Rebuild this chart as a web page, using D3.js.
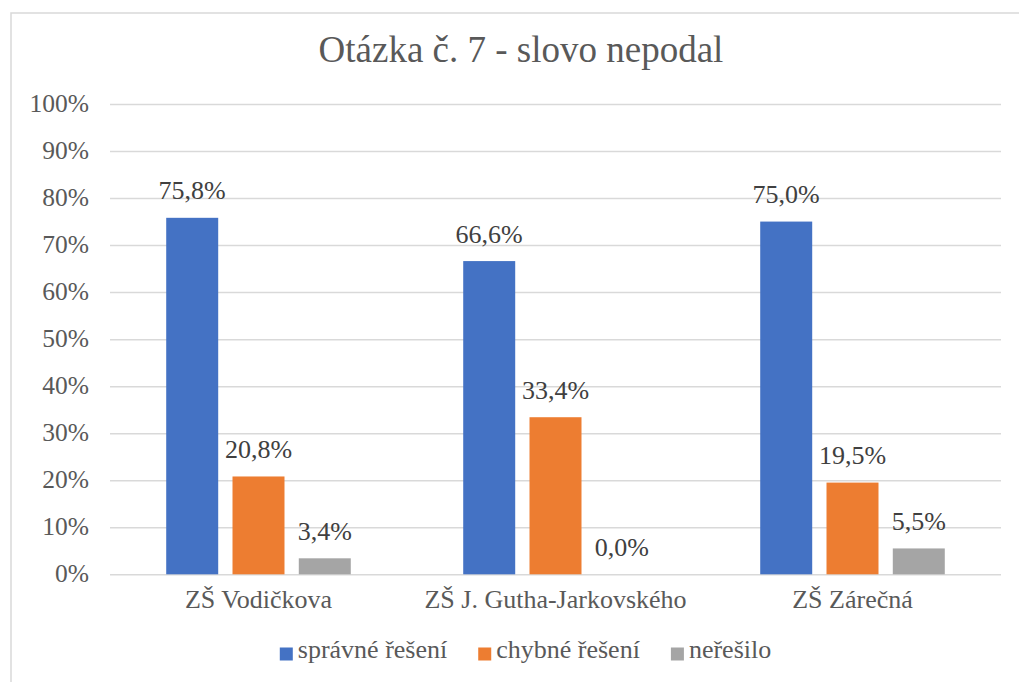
<!DOCTYPE html>
<html>
<head>
<meta charset="utf-8">
<script src="https://cdn.jsdelivr.net/npm/d3@7"></script>
</head>
<body style="margin:0;padding:0;background:#fff">
<svg id="chart" width="1019" height="682" style="display:block"></svg>
<script>
// Chart data
const title = "Otázka č. 7 - slovo nepodal";
const categories = ["ZŠ Vodičkova", "ZŠ J. Gutha-Jarkovského", "ZŠ Zárečná"];
const seriesNames = ["správné řešení", "chybné řešení", "neřešilo"];
const seriesColors = ["#4472C4", "#ED7D31", "#A5A5A5"];
const spravne = [75.8, 66.6, 75.0];
const chybne = [20.8, 33.4, 19.5];
const neresilo = [3.4, 0.0, 5.5];
const yTicks = [0, 10, 20, 30, 40, 50, 60, 70, 80, 90, 100];

const seriesValues = [spravne, chybne, neresilo];
const FONT = "'Liberation Serif'";

const svg = d3.select("#chart");

// Outer chart frame
svg.append("rect")
  .attr("x", 11).attr("y", 13)
  .attr("width", 1040).attr("height", 700)
  .attr("fill", "#fff")
  .attr("stroke", "#d9d9d9")
  .attr("stroke-width", 1.5);

// Plot area
const plot = { left: 110, right: 1001, top: 104, bottom: 574.3 };

const x0 = d3.scaleBand()
  .domain(categories)
  .range([plot.left, plot.right])
  .paddingInner(0)
  .paddingOuter(0);

const x1 = d3.scaleBand()
  .domain(seriesNames)
  .range([0, x0.bandwidth()])
  .paddingInner(0.2157)
  .paddingOuter(0.848);

const y = d3.scaleLinear()
  .domain([0, 100])
  .range([plot.bottom, plot.top]);

// Gridlines and y-axis labels
const yAxis = d3.axisLeft(y)
  .tickValues(yTicks)
  .tickSize(-(plot.right - plot.left))
  .tickPadding(21)
  .tickFormat(d => d + "%");

const gAxis = svg.append("g")
  .attr("transform", `translate(${plot.left},0)`)
  .call(yAxis);
gAxis.select(".domain").remove();
gAxis.selectAll(".tick line")
  .attr("stroke", "#d9d9d9")
  .attr("stroke-width", 1.5);
gAxis.selectAll(".tick text")
  .attr("fill", "#595959")
  .style("font-family", FONT)
  .style("font-size", "25.5px")
  .attr("dy", null)
  .attr("y", 7);

// Bars
const rows = [];
categories.forEach((c, ci) => {
  seriesNames.forEach((s, si) => {
    rows.push({ cat: c, series: s, value: seriesValues[si][ci], color: seriesColors[si] });
  });
});

const gBars = svg.append("g");
gBars.selectAll("rect")
  .data(rows)
  .join("rect")
  .attr("x", d => x0(d.cat) + x1(d.series))
  .attr("y", d => y(d.value))
  .attr("width", x1.bandwidth())
  .attr("height", d => y(0) - y(d.value))
  .attr("fill", d => d.color);

// Value labels
const fmt = v => v.toFixed(1).replace(".", ",") + "%";
gBars.selectAll("text")
  .data(rows)
  .join("text")
  .attr("x", d => x0(d.cat) + x1(d.series) + x1.bandwidth() / 2)
  .attr("y", d => y(d.value) - 18.5)
  .attr("text-anchor", "middle")
  .attr("fill", "#404040")
  .style("font-family", FONT)
  .style("font-size", "26px")
  .text(d => fmt(d.value));

// Category labels
svg.append("g")
  .selectAll("text")
  .data(categories)
  .join("text")
  .attr("x", d => x0(d) + x0.bandwidth() / 2)
  .attr("y", 608)
  .attr("text-anchor", "middle")
  .attr("fill", "#595959")
  .style("font-family", FONT)
  .style("font-size", "26px")
  .text(d => d);

// Title
svg.append("text")
  .attr("x", 521)
  .attr("y", 62)
  .attr("text-anchor", "middle")
  .attr("fill", "#595959")
  .style("font-family", FONT)
  .style("font-size", "37px")
  .text(title);

// Legend
const legend = svg.append("g");
const items = legend.selectAll("g")
  .data(seriesNames)
  .join("g");
items.append("rect")
  .attr("width", 13)
  .attr("height", 13)
  .attr("y", 647.5)
  .attr("fill", (d, i) => seriesColors[i]);
items.append("text")
  .attr("x", 18)
  .attr("y", 658)
  .attr("fill", "#595959")
  .style("font-family", FONT)
  .style("font-size", "26px")
  .text(d => d);

const itemGap = 31;
const widths = [];
items.each(function () {
  widths.push(18 + d3.select(this).select("text").node().getComputedTextLength());
});
const total = d3.sum(widths) + itemGap * (widths.length - 1);
let cursor = 525.5 - total / 2;
items.attr("transform", (d, i) => {
  const t = `translate(${cursor},0)`;
  cursor += widths[i] + itemGap;
  return t;
});
</script>
</body>
</html>
